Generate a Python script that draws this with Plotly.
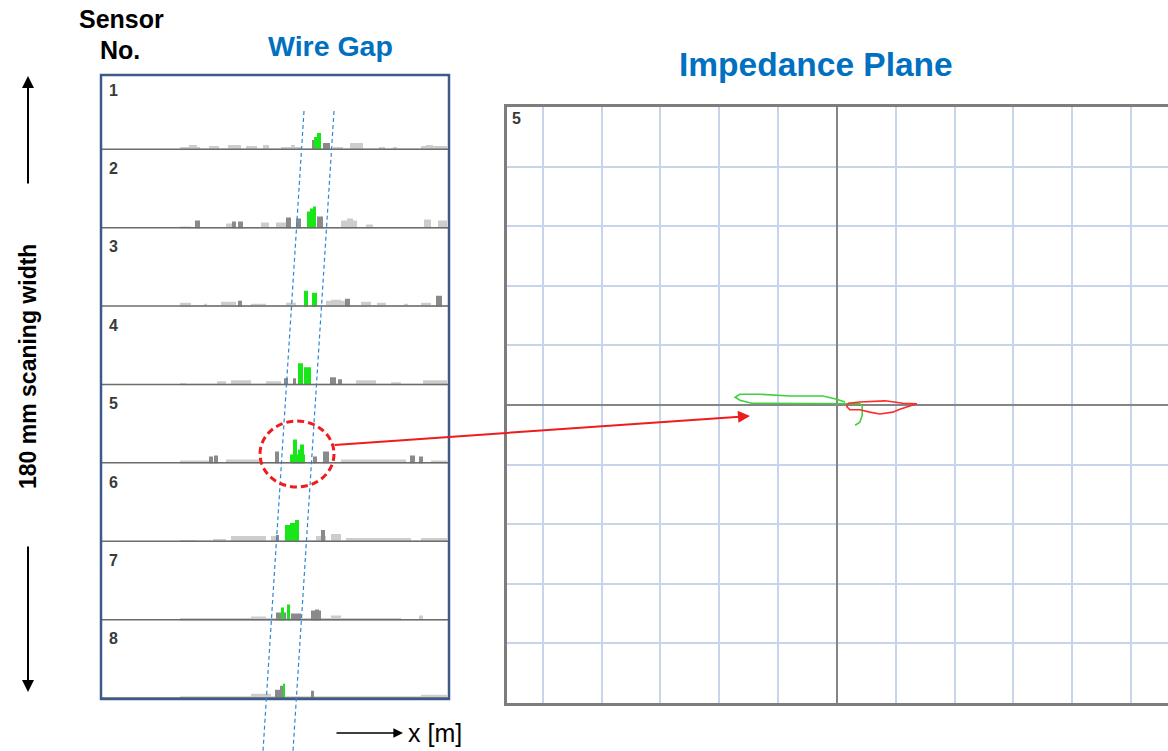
import plotly.graph_objects as go

W, H = 1168, 751
FONT = "Liberation Sans"

# ---- eddy-current sensor strips: (start, end, amplitude) per bin ----
sensor_ids = [1, 2, 3, 4, 5, 6, 7, 8]

noise_bins = {
    1: [(79, 348, 1.5), (79, 99, 3), (88, 96, 5), (108, 118, 4), (127, 140, 5), (145, 156, 4), (162, 168, 5),
        (180, 200, 3), (190, 194, 5), (232, 242, 3), (249, 262, 7), (278, 284, 3), (292, 296, 3),
        (320, 346, 4), (325, 332, 5)],
    2: [(79, 348, 1.5), (79, 90, 2), (125, 132, 5), (160, 168, 6), (175, 185, 6), (240, 256, 8), (246, 252, 10),
        (265, 272, 4), (323, 330, 9), (337, 346, 8)],
    3: [(79, 348, 1.5), (79, 90, 4), (103, 106, 3), (120, 135, 5), (150, 165, 3), (185, 195, 4), (225, 245, 6),
        (230, 240, 7), (260, 270, 5), (276, 285, 4), (303, 307, 3), (320, 330, 4)],
    4: [(79, 348, 1.5), (79, 85, 2), (116, 125, 4), (130, 150, 5), (165, 180, 4), (255, 275, 5), (290, 300, 3),
        (322, 346, 5)],
    5: [(79, 348, 1.5), (79, 108, 3), (125, 160, 4), (240, 305, 4), (330, 346, 3)],
    6: [(79, 348, 1.5), (79, 95, 2), (112, 125, 3), (130, 165, 6), (170, 175, 6), (215, 225, 6), (230, 240, 8),
        (245, 310, 4), (320, 346, 4)],
    7: [(79, 348, 1.5), (79, 300, 2.5), (150, 165, 4), (230, 240, 5), (318, 322, 5)],
    8: [(79, 348, 1.5), (79, 346, 2.5), (150, 170, 5), (320, 346, 4)],
}

clutter_bins = {
    1: [(211, 215, 10), (222, 229, 7)],
    2: [(94, 99, 8), (131, 135, 7), (137, 142, 7), (185, 190, 11), (195, 200, 10), (216, 222, 12)],
    3: [(137, 141, 6), (244, 249, 8), (335, 341, 11)],
    4: [(183, 187, 7), (192, 195, 7), (229, 235, 8), (237, 241, 6)],
    5: [(108, 112, 7), (113, 117, 8), (174, 178, 12), (212, 216, 7), (222, 228, 12), (309, 314, 8),
        (318, 322, 7)],
    6: [(175, 178, 7), (220, 224, 12)],
    7: [(175, 185, 8), (190, 200, 7), (210, 220, 10), (214, 218, 11)],
    8: [(174, 183, 9), (179, 183, 13), (210, 213, 8)],
}

gap_bins = {
    1: [(213, 216, 13), (216, 220, 17)],
    2: [(206, 209, 17), (209, 212, 20), (212, 215, 22)],
    3: [(203, 207, 16), (211, 216, 14)],
    4: [(197, 202, 22), (203, 210, 18)],
    5: [(189, 204, 9), (192, 196, 24), (197, 199, 14), (199, 203, 19)],
    6: [(184, 189, 17), (189, 194, 19), (194, 198, 22)],
    7: [(180, 183, 13), (186, 189, 16)],
    8: [(182, 184, 15)],
}

# ---- impedance plane trajectory of sensor 5 (grid units) ----
green_re = [0.14, -0.02, -0.24, -0.80, -1.31, -1.65, -1.73, -1.65, -1.45, -0.63, -0.03, 0.22, 0.39,
            0.43, 0.43, 0.39, 0.31]
green_im = [0.05, 0.10, 0.15, 0.15, 0.18, 0.18, 0.13, 0.08, 0.03, 0.03, 0.02, 0.02, 0.02,
            -0.02, -0.17, -0.29, -0.34]
red_re = [0.19, 0.39, 0.82, 1.12, 1.36, 1.21, 1.07, 0.95, 0.73, 0.56, 0.39, 0.22, 0.17, 0.19]
red_im = [0.03, 0.05, 0.07, 0.03, 0.02, -0.02, -0.07, -0.12, -0.15, -0.12, -0.08, -0.08, -0.03, 0.03]


def px(x):
    return x / W


def py(y):
    return 1 - y / H


fig = go.Figure()

STRIP_H = 78.4
FIRST_BASE = 150
BOX = (101, 75, 449, 699)

layout_axes = {}
shapes = []
annotations = []

for i, sid in enumerate(sensor_ids):
    base = FIRST_BASE + STRIP_H * i
    ax_id = i + 2
    layout_axes[f"yaxis{ax_id}"] = dict(
        domain=[py(base), py(base - STRIP_H)], range=[0, STRIP_H], visible=False,
        anchor="x2", fixedrange=True,
    )
    for bins, color in ((noise_bins[sid], "#cdcdcd"), (clutter_bins[sid], "#8a8a8a"),
                        (gap_bins[sid], "#19e619")):
        fig.add_trace(go.Bar(
            x=[(a + b) / 2 for a, b, _ in bins],
            y=[h for _, _, h in bins],
            width=[b - a for a, b, _ in bins],
            marker=dict(color=color, line=dict(width=0)),
            xaxis="x2", yaxis=f"y{ax_id}", hoverinfo="skip",
        ))
    shapes.append(dict(type="line", xref="x2", yref=f"y{ax_id}", x0=0, x1=348, y0=0, y1=0,
                       line=dict(color="#6c6c6c", width=3), layer="above"))
    annotations.append(dict(text=str(sid), xref="x2", yref=f"y{ax_id}", x=12, y=60,
                            xanchor="center", yanchor="middle", showarrow=False,
                            font=dict(family=FONT, size=16, color="#3a3a3a", weight="bold")))

fig.add_trace(go.Scatter(x=green_re, y=green_im, mode="lines",
                         line=dict(color="#3fcf3f", width=1.6), xaxis="x", yaxis="y"))
fig.add_trace(go.Scatter(x=red_re, y=red_im, mode="lines",
                         line=dict(color="#ff2a2a", width=1.6), xaxis="x", yaxis="y"))

grid = dict(showticklabels=False, ticks="", dtick=1, tick0=0, gridcolor="#c7d5ea", gridwidth=2,
            zeroline=True, zerolinecolor="#858585", zerolinewidth=2, showline=True,
            linecolor="#7d7d7d", linewidth=2.5, fixedrange=True)

fig.update_layout(
    width=W, height=H, margin=dict(l=0, r=0, t=0, b=0),
    paper_bgcolor="white", plot_bgcolor="white", showlegend=False, barmode="overlay",
    xaxis=dict(domain=[px(507), 1], range=[-5.61, 5.63], mirror=True, anchor="y", **grid),
    yaxis=dict(domain=[py(703), py(107)], range=[-5, 5], mirror=False, anchor="x", **grid),
    xaxis2=dict(domain=[px(BOX[0]), px(BOX[2])], range=[0, 348], visible=False, anchor="y2",
                fixedrange=True),
    **layout_axes,
)

# frame around the sensor strips
shapes.append(dict(type="rect", xref="paper", yref="paper", x0=px(BOX[0]), x1=px(BOX[2]),
                   y0=py(BOX[3]), y1=py(BOX[1]), line=dict(color="#3d5b88", width=2.5),
                   layer="above"))
# wire gap guide lines
for x_top, x_bot in ((304, 263), (334, 293)):
    shapes.append(dict(type="line", xref="paper", yref="paper", x0=px(x_top), y0=py(111),
                       x1=px(x_bot), y1=py(751), line=dict(color="#2f86d6", width=1.2, dash="4px,3px"),
                       layer="above"))
# highlighted signal of sensor 5
shapes.append(dict(type="circle", xref="paper", yref="paper", x0=px(260), x1=px(334),
                   y0=py(487), y1=py(421), line=dict(color="#ee1c1c", width=3, dash="7px,4px"),
                   layer="above"))

title_font = dict(family=FONT, color="#0070c0", weight="bold")
black_bold = dict(family=FONT, color="black", weight="bold")

labels = [
    dict(text="Sensor", x=px(121), y=py(19), font=dict(size=25, **black_bold)),
    dict(text="No.", x=px(120), y=py(50), font=dict(size=25, **black_bold)),
    dict(text="Wire Gap", x=px(330), y=py(46), font=dict(size=28.5, **title_font)),
    dict(text="Impedance Plane", x=px(816), y=py(64), font=dict(size=33.5, **title_font)),
    dict(text="180 mm scaning width", x=px(28), y=py(367), textangle=-90,
         font=dict(size=23, **black_bold)),
    dict(text="x [m]", x=px(435), y=py(733), font=dict(family=FONT, size=25, color="black")),
    dict(text="5", x=px(516), y=py(119), font=dict(family=FONT, size=16, color="#3a3a3a", weight="bold")),
]
for a in labels:
    a.update(xref="paper", yref="paper", showarrow=False, xanchor="center", yanchor="middle")
annotations += labels

arrow = dict(xref="paper", yref="paper", axref="pixel", ayref="pixel", text="", showarrow=True,
             arrowhead=2, arrowsize=1.2, arrowwidth=2, arrowcolor="black")
annotations += [
    dict(x=px(28), y=py(76), ax=0, ay=109, **arrow),
    dict(x=px(28), y=py(692), ax=0, ay=-147, **arrow),
    dict(x=px(403), y=py(733), ax=-68, ay=0, **{**arrow, "arrowwidth": 1.6}),
    dict(x=px(750), y=py(416), ax=-417, ay=29, **{**arrow, "arrowcolor": "#ee1c1c"}),
]

fig.update_layout(shapes=shapes, annotations=annotations)
fig.write_html("out.html")
